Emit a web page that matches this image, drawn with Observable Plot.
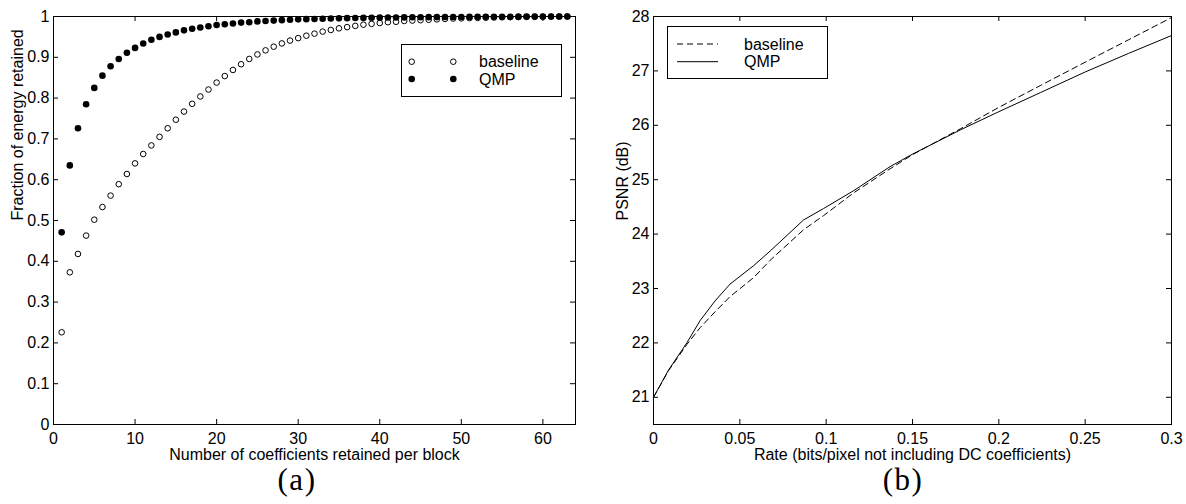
<!DOCTYPE html>
<html>
<head>
<meta charset="utf-8">
<script src="https://cdn.jsdelivr.net/npm/d3@7"></script>
<script src="https://cdn.jsdelivr.net/npm/@observablehq/plot@0.6"></script>
<style>
  html, body { margin: 0; padding: 0; background: #fff; }
  #figure { position: relative; width: 1186px; height: 504px; overflow: hidden; }
  #figure .panel { position: absolute; top: 0; }
  #overlay { position: absolute; left: 0; top: 0; pointer-events: none; }
</style>
</head>
<body>
<div id="figure"></div>
<script>
// ---- (a) energy compaction: fraction of energy kept vs. coefficients per block ----
// value for k = 1..63 retained coefficients
const baselineEnergy = [
  0.226, 0.373, 0.418, 0.463, 0.502, 0.533, 0.561, 0.589, 0.614, 0.640,
  0.663, 0.684, 0.705, 0.726, 0.747, 0.767, 0.786, 0.804, 0.821, 0.838,
  0.854, 0.869, 0.883, 0.896, 0.907, 0.917, 0.926, 0.934, 0.941, 0.947,
  0.953, 0.958, 0.963, 0.967, 0.971, 0.974, 0.977, 0.980, 0.982, 0.984,
  0.986, 0.987, 0.989, 0.990, 0.991, 0.992, 0.993, 0.994, 0.995, 0.9955,
  0.996, 0.9965, 0.997, 0.9975, 0.998, 0.9983, 0.9986, 0.9989, 0.9992, 0.9994,
  0.9996, 0.9998, 1.0
];
const qmpEnergy = [
  0.471, 0.635, 0.726, 0.785, 0.825, 0.855, 0.878, 0.896, 0.911, 0.923,
  0.934, 0.943, 0.950, 0.956, 0.961, 0.966, 0.970, 0.973, 0.976, 0.979,
  0.981, 0.983, 0.985, 0.986, 0.988, 0.989, 0.990, 0.991, 0.992, 0.993,
  0.9935, 0.994, 0.9945, 0.995, 0.9955, 0.996, 0.9963, 0.9966, 0.9969, 0.9972,
  0.9974, 0.9976, 0.9978, 0.998, 0.9982, 0.9984, 0.9985, 0.9986, 0.9988, 0.9989,
  0.999, 0.9991, 0.9992, 0.9993, 0.9994, 0.9995, 0.9996, 0.9997, 0.9997, 0.9998,
  0.9999, 0.9999, 1.0
];
const xTicksA = [0, 10, 20, 30, 40, 50, 60];
const yTicksA = [0, 0.1, 0.2, 0.3, 0.4, 0.5, 0.6, 0.7, 0.8, 0.9, 1];

// ---- (b) rate-distortion: PSNR vs. rate ----
const rates = [0, 0.0087, 0.0193, 0.027, 0.0356, 0.0443, 0.058, 0.0676, 0.0869, 0.0985,
               0.116, 0.137, 0.15, 0.178, 0.2, 0.224, 0.25, 0.275, 0.3];
const baselinePsnr = [21.0, 21.49, 21.97, 22.28, 22.57, 22.85, 23.2, 23.52, 24.08, 24.34,
                      24.76, 25.2, 25.46, 25.94, 26.33, 26.73, 27.16, 27.57, 27.98];
const qmpPsnr = [21.0, 21.5, 22.0, 22.41, 22.77, 23.08, 23.42, 23.69, 24.26, 24.47,
                 24.8, 25.24, 25.47, 25.92, 26.25, 26.6, 26.98, 27.32, 27.65];
const xTicksB = [0, 0.05, 0.1, 0.15, 0.2, 0.25, 0.3];
const yTicksB = [21, 22, 23, 24, 25, 26, 27, 28];

const seriesNames = ["baseline", "QMP"];

const energyRows = baselineEnergy.map((b, i) => ({n: i + 1, baseline: b, qmp: qmpEnergy[i]}));
const rdRows = rates.map((r, i) => ({rate: r, baseline: baselinePsnr[i], qmp: qmpPsnr[i]}));

const fmt = d => String(d);
const sans = '"Liberation Sans", Arial, Helvetica, sans-serif';
const TICK = 5;

// inward ticks on all four sides of the box
function boxTicks(xt, yt, innerW, innerH) {
  return [
    Plot.tickX(xt, {x: d => d, insetTop: innerH - TICK}),
    Plot.tickX(xt, {x: d => d, insetBottom: innerH - TICK}),
    Plot.tickY(yt, {y: d => d, insetRight: innerW - TICK}),
    Plot.tickY(yt, {y: d => d, insetLeft: innerW - TICK})
  ];
}

const figure = document.getElementById("figure");

// panel (a)
{
  const width = 592, height = 470, mL = 53, mR = 17, mT = 16, mB = 46;
  const innerW = width - mL - mR, innerH = height - mT - mB;
  const chart = Plot.plot({
    width, height, marginLeft: mL, marginRight: mR, marginTop: mT, marginBottom: mB,
    style: {fontFamily: sans, fontSize: "16px", color: "black", background: "white", overflow: "visible"},
    x: {domain: [0, 64]},
    y: {domain: [0, 1]},
    marks: [
      Plot.frame({stroke: "black", strokeWidth: 1}),
      ...boxTicks(xTicksA, yTicksA, innerW, innerH),
      Plot.axisX(xTicksA, {tickSize: 0, tickPadding: 8, tickFormat: fmt, label: null}),
      Plot.axisY(yTicksA, {tickSize: 0, tickPadding: 4, tickFormat: fmt, label: null}),
      Plot.text(["Number of coefficients retained per block"], {text: d => d, frameAnchor: "bottom", dy: 30, lineAnchor: "middle"}),
      Plot.text(["Fraction of energy retained"], {text: d => d, frameAnchor: "left", rotate: -90, dx: -36, lineAnchor: "middle"}),
      Plot.dot(energyRows, {x: "n", y: "baseline", r: 2.8, fill: "white", stroke: "black", strokeWidth: 1}),
      Plot.dot(energyRows, {x: "n", y: "qmp", r: 3.3, fill: "black", stroke: "none"})
    ]
  });
  chart.classList.add("panel");
  chart.style.left = "0px";
  figure.appendChild(chart);
}

// panel (b)
{
  const width = 593, height = 470, mL = 60, mR = 15, mT = 16, mB = 46;
  const innerW = width - mL - mR, innerH = height - mT - mB;
  const chart = Plot.plot({
    width, height, marginLeft: mL, marginRight: mR, marginTop: mT, marginBottom: mB,
    style: {fontFamily: sans, fontSize: "16px", color: "black", background: "white", overflow: "visible"},
    x: {domain: [0, 0.3]},
    y: {domain: [20.5, 28]},
    marks: [
      Plot.frame({stroke: "black", strokeWidth: 1}),
      ...boxTicks(xTicksB, yTicksB, innerW, innerH),
      Plot.axisX(xTicksB, {tickSize: 0, tickPadding: 8, tickFormat: fmt, label: null}),
      Plot.axisY(yTicksB, {tickSize: 0, tickPadding: 4, tickFormat: fmt, label: null}),
      Plot.text(["Rate (bits/pixel not including DC coefficients)"], {text: d => d, frameAnchor: "bottom", dy: 30, lineAnchor: "middle"}),
      Plot.text(["PSNR (dB)"], {text: d => d, frameAnchor: "left", rotate: -90, dx: -31, lineAnchor: "middle"}),
      Plot.line(rdRows, {x: "rate", y: "baseline", stroke: "black", strokeWidth: 1, strokeDasharray: "6,4"}),
      Plot.line(rdRows, {x: "rate", y: "qmp", stroke: "black", strokeWidth: 1})
    ]
  });
  chart.classList.add("panel");
  chart.style.left = "593px";
  figure.appendChild(chart);
}

// legends and sub-captions
const overlay = d3.select(figure).append("svg")
  .attr("id", "overlay")
  .attr("width", 1186).attr("height", 504)
  .style("font-family", sans).style("font-size", "16px");

// legend (a): marker samples
{
  const g = overlay.append("g").attr("transform", "translate(401,44)");
  g.append("rect").attr("x", 0.5).attr("y", 0.5).attr("width", 160).attr("height", 52)
    .attr("fill", "white").attr("stroke", "black");
  const rows = [17.7, 35];
  seriesNames.forEach((name, i) => {
    const open = i === 0;
    for (const cx of [10.7, 52.3]) {
      g.append("circle").attr("cx", cx).attr("cy", rows[i]).attr("r", open ? 2.8 : 3.3)
        .attr("fill", open ? "white" : "black").attr("stroke", open ? "black" : "none");
    }
    g.append("text").attr("x", 78).attr("y", rows[i] + 5.7).text(name);
  });
}

// legend (b): line samples
{
  const g = overlay.append("g").attr("transform", "translate(667,26)");
  g.append("rect").attr("x", 0.5).attr("y", 0.5).attr("width", 160).attr("height", 52)
    .attr("fill", "white").attr("stroke", "black");
  const rows = [18, 35.7];
  seriesNames.forEach((name, i) => {
    g.append("line").attr("x1", 10).attr("x2", 51).attr("y1", rows[i]).attr("y2", rows[i])
      .attr("stroke", "black").attr("stroke-width", 1)
      .attr("stroke-dasharray", i === 0 ? "6,4" : null);
    g.append("text").attr("x", 77).attr("y", rows[i] + 5.7).text(name);
  });
}

overlay.selectAll("text.caption")
  .data([{label: "(a)", x: 297}, {label: "(b)", x: 903}])
  .join("text")
  .attr("class", "caption")
  .attr("x", d => d.x).attr("y", 490)
  .attr("text-anchor", "middle")
  .style("font-family", '"Liberation Serif", "Times New Roman", serif')
  .style("font-size", "31px")
  .style("letter-spacing", "1.5px")
  .text(d => d.label);
</script>
</body>
</html>
